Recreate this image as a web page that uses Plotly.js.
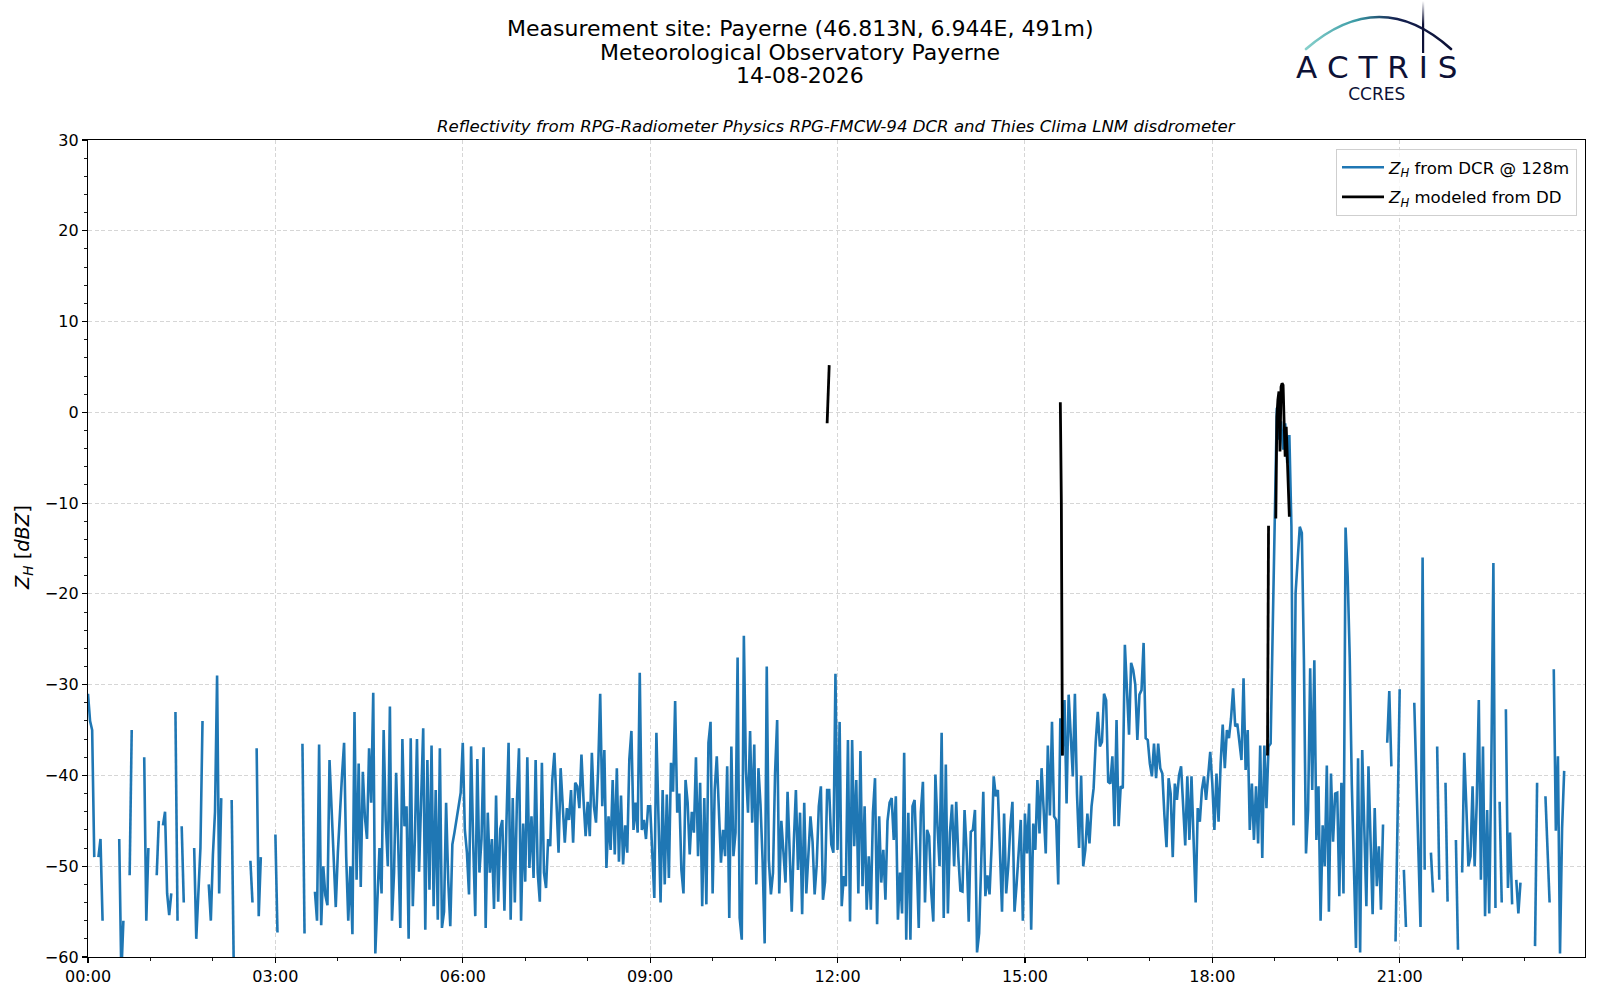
<!DOCTYPE html>
<html>
<head>
<meta charset="utf-8">
<script src="https://cdn.plot.ly/plotly-3.0.1.min.js"></script>
<style>
  html, body { margin: 0; padding: 0; background: #fff; }
  #chart { width: 1600px; height: 1000px; }
</style>
</head>
<body>
<div id="chart"></div>
<script>
// ── Reflectivity Payerne – DCR vs disdrometer ───────────────────────────────
const DAY = '2026-08-14';
const STEP_MIN = 2;   // DCR series: one value every 2 min, 30 values per hour

// Z_H from DCR @ 128m (dBZ), one row per hour, null = no echo
const zhDcrByHour = [
  /*00*/ [-31,-34,-35,-49,null,-49,-47,-56,null,null, null,null,null,null,null,-47,-62,-56,null,null, -51,-35,null,null,null,null,null,-38,-56,-48],
  /*01*/ [null,null,null,-51,-45,null,-45.5,-44,-53,-55.4, -53,null,-33,-56,null,-45.6,-54,null,null,null, null,-48,-58,-53,-48,-34,null,null,-52,-56],
  /*02*/ [-48.7,-44,-29,-53,-42.5,null,null,null,null,-42.7, -61,null,null,null,null,null,null,null,-49.4,-54, null,-37,-55.5,-49,null,null,null,null,null,null],
  /*03*/ [-46.5,-57.3,null,null,null,null,null,null,null,null, null,null,null,-36.5,-57.4,null,null,null,null,-52.8, -56,-36.6,-56.5,-50,-53.2,-54.3,-38.3,-43.7,-50,-54.5],
  /*04*/ [-48.5,-43.7,-40,-36.4,-48.9,-56,-50,-57.5,-33,-51.5, -38.7,-52.3,-39.6,-44.6,-47,-37,-43,-30.9,-59.6,-53.7, -48,-53,-35,-45,-50,-32.4,-56,-50.7,-39.7,-47.6],
  /*05*/ [-56.8,-36,-45.6,-43.4,-58,-35.9,-54.4,-47,-36,-50.6, -41,-34.8,-57,-38.3,-52.6,-36.7,-54.4,-41.6,-55.9,-37, -56.8,-55,-43,-51.5,-56.6,-47.6,-46.3,-45,-43.4,-41.9],
  /*06*/ [-36.4,-46,-48.5,-53.1,-36.8,-47.4,-55.5,-38.2,-50.7,-47, -36.9,-56.8,-44.1,-50.7,-47,-54.7,-42.2,-53.9,-45.9,-44.9, -54.9,-45,-36.4,-55.9,-42.5,-54,-42.9,-37,-56,-45.3],
  /*07*/ [-51.7,-38,-50.2,-44.5,-51.3,-38.3,-50.7,-53.9,-38.6,-50.7, -52.4,-47,-47.8,-40.5,-37.5,-42.9,-48.5,-39.2,-43.4,-47.4, -43.6,-44.9,-41.6,-47.4,-40.8,-41.2,-43.6,-37.7,-42.7,-46.7],
  /*08*/ [-42.9,-46.7,-37.5,-43.4,-45.2,-39.5,-31,-43.4,-37.2,-50.2, -44.5,-48.2,-40.5,-48.7,-39.2,-49.5,-42.2,-49.8,-45.5,-48.5, -38.2,-35.1,-46,-43,-46.3,-28.7,-46,-44.9,-47,-43.4],
  /*09*/ [-43.4,-48,-53.5,-35.3,-45,-54,-41.6,-52,-42.1,-51.3, -38.6,-41.8,-31.8,-44.1,-42,-50.4,-53,-40.5,-43,-48.7, -44,-46.3,-38,-48.9,-40.8,-54.4,-42.5,-54.2,-36.4,-34.1],
  /*10*/ [-53,-41.6,-37.9,-44.5,-49.6,-46,-48.9,-39,-55.7,-36.8, -48.9,-46.3,-27,-55.7,-58.1,-24.6,-39.5,-44.1,-35.1,-45.2, -36.6,-52,-39.2,-43.2,-49.3,-58.5,-28,-49.3,-53.1,-50.7],
  /*11*/ [-39.7,-33.9,-53,-45,-48.5,-51.8,-41.8,-49.3,-55,-47.3, -41.6,-50.4,-44.1,-55.3,-43,-53,-48.5,-44.5,-47.3,-53.1, -49.8,-43.4,-41.2,-53.7,-51.7,-41.6,-41.6,-47.6,-48.5,-28.8],
  /*12*/ [-48.2,-34.1,-54.4,-51.1,-52.2,-36.1,-56.1,-36.1,-47.8,-40.5, -53,-37.3,-52.2,-43.4,-54.8,-48.9,-54.8,-44.1,-40.3,-56.4, -44.5,-51.8,-48.2,-53.7,-45,-43,-42.5,-47.1,-42.3,-55.9],
  /*13*/ [-50.7,-55.2,-37.5,-58.1,-44.1,-58.1,-43.4,-42.7,-49,-56.8, -44.1,-40.7,-54,-46,-46.7,-52.8,-56.1,-39.9,-45.6,-50, -35.3,-55.7,-38.8,-55.2,-46.3,-43.2,-50,-42.9,-48.9,-52.7],
  /*14*/ [-52.8,-43.8,-48.4,-56.1,-46.2,-46,-43.8,-59.5,-57.4,-48.9, -41.8,-53.3,-51,-53.1,-47.8,-40.1,-42.3,-41.6,-47.3,-55, -44.2,-53,-50,-45.6,-42.9,-55,-52,-48.2,-44.9,-56],
  /*15*/ [-44.2,-48.6,-43.1,-57,-45.3,-48.2,-40.5,-46.4,-39.2,-43.8, -48.6,-36.7,-44.4,-34.1,-44.5,-44.9,-52,-33.7,-37.8,-31.7, -43.1,-31.1,-35.2,-40.1,-31,-42,-48,-40,-50,-48.2],
  /*16*/ [-44.2,-47.5,-43.4,-41.4,-36.3,-33,-36.8,-36.3,-31,-31.7, -40.7,-40.9,-37.9,-45.6,-33.9,-45.6,-41.2,-41.4,-25.6,-30.6, -35.5,-27.6,-28.4,-30,-36.1,-31.1,-30.6,-25.4,-35.9,-36.1],
  /*17*/ [-38.7,-40.1,-36.5,-40.3,-36.5,-39.2,-39.8,-44.4,-47.9,-40.3, -42,-49,-40.9,-42.7,-40,-39,-43.8,-47.7,-40.1,-47.1, -40.1,-48,-54,-43.6,-45.1,-41.6,-40.1,-42.7,-39.6,-37.4],
  /*18*/ [-40.9,-46,-39.8,-45.1,-38.7,-34.4,-39.2,-35,-35.9,-33.7, -30.4,-34.6,-34.3,-36.1,-38.3,-29.3,-39.4,-35,-46,-40.9, -47.1,-41.2,-47.5,-36.7,-49.1,-36.7,-43.6,-36.8,-36.5,-24],
  /*19*/ [-11.9,0.5,-3,-1,-4.1,-1.2,-5.6,-2.5,-12.6,-45.5, -19.9,-16.3,-12.6,-13.3,-27.3,-48.6,-43.8,-28.2,-41.6,-27.3, -47.1,-41.2,-56,-45.5,-50,-38.9,-55,-39.8,-47.3,-42],
  /*20*/ [-41.9,-53.3,-40.8,-53,-12.7,-18,-27,-41,-50,-59, -38.1,-59.5,-37.2,-46.3,-54.4,-39,-47,-55.3,-43.6,-52.2, -47.8,-54.8,-45.4,null,-36.4,-30.7,-39,null,-58.3,-45],
  /*21*/ [-30.5,null,-50.4,-56.7,null,null,null,-32,-39.5,-48.7, -56.7,-16,-50.4,null,null,-48.5,-52.9,null,-36.8,-51.5, null,null,-40.8,-53.9,null,null,null,-47.1,-59.2,null],
  /*22*/ [-50.7,-37.5,-43.4,-50,-48.9,-41.2,-50,-42.9,-31.7,-51.5, -36.8,-55.5,-43.8,-55.2,-39,-16.6,-54.6,null,-42.9,-54, null,-32.7,-52.4,-46.3,-54.2,null,-51.5,-55.2,-51.8,null],
  /*23*/ [null,null,null,null,null,-58.8,-40.8,null,null,null, -42.3,-49.1,-54,null,-28.3,-46.1,-37.9,-59.6,-45.8,-39.5, null,null,null,null,null,null,null,null,null,null],
];

// Z_H modeled from disdrometer (dBZ), null = break in the line
const ddTime = ['11:50','11:52','11:53', '15:34','15:35','15:36','15:37', '18:53','18:54','18:55',
                '19:01','19:02','19:03','19:04','19:05','19:06','19:07','19:08','19:09','19:10','19:11','19:12','19:13','19:14'];
const ddZh   = [-1.2, 5.2, null, 1.1, -10, -37.8, null, -37.8, -12.5, null,
                -11.7, -0.5, 1.4, 2.3, -4.3, 2.8, 3.2, 3.0, -1.2, -4.9, -1.6, -5.3, -7.1, -11.5];

const titleLines = ['Measurement site: Payerne (46.813N, 6.944E, 491m)', 'Meteorological Observatory Payerne', '14-08-2026'];
const subTitle = 'Reflectivity from RPG-Radiometer Physics RPG-FMCW-94 DCR and Thies Clima LNM disdrometer';

// ── helpers ─────────────────────────────────────────────────────────────────
const pad = n => String(n).padStart(2,'0');
const stamp = (h,m) => `${DAY} ${pad(h)}:${pad(m)}`;

const dcrX = [], dcrY = [];
zhDcrByHour.forEach((row,h) => {
  if(row.length !== 60/STEP_MIN) console.warn('hour', h, 'has', row.length, 'values');
  row.forEach((v,i) => { dcrX.push(stamp(h, i*STEP_MIN)); dcrY.push(v); });
});
const ddX = ddTime.map(t => `${DAY} ${t}`);

// plot box in pixels (matches margins below)
const BOX = {l:88, t:140, w:1497, h:817};
const pxX = x => (x-BOX.l)/BOX.w;
const pxY = y => 1-(y-BOX.t)/BOX.h;

const FONT = 'DejaVu Sans, sans-serif';
const INK = '#0d1136';
const ZH = '<i>Z<sub>H</sub></i>';

const logoSvg = `<svg xmlns='http://www.w3.org/2000/svg' width='160' height='56' viewBox='0 0 160 56'>
<defs>
<linearGradient id='g' x1='0' y1='0' x2='1' y2='0'>
<stop offset='0' stop-color='#86d0cb'/><stop offset='0.35' stop-color='#3a9aa5'/>
<stop offset='0.62' stop-color='#142150'/><stop offset='1' stop-color='${INK}'/></linearGradient>
<linearGradient id='v' x1='0' y1='0' x2='0' y2='1'>
<stop offset='0' stop-color='${INK}' stop-opacity='0'/><stop offset='0.45' stop-color='${INK}'/></linearGradient>
</defs>
<path d='M6 49 Q80 -15 151 49' fill='none' stroke='url(#g)' stroke-width='2.6' stroke-linecap='round'/>
<rect x='122' y='1' width='2.2' height='52' fill='url(#v)'/>
</svg>`;

const traces = [
  {x:dcrX, y:dcrY, type:'scatter', mode:'lines', name:`${ZH} from DCR @ 128m`,
   line:{color:'#1f77b4', width:2.6}, legendgroup:'a', connectgaps:false},
  {x:ddX, y:ddZh, type:'scatter', mode:'lines', name:`${ZH} modeled from DD`,
   line:{color:'#000000', width:2.8}, legendgroup:'b', connectgaps:false},
];

const annotations = [
  ...titleLines.map((t,i) => ({text:t, xref:'paper', yref:'paper', x:pxX(800), y:pxY(29+i*23),
    showarrow:false, xanchor:'center', yanchor:'middle', font:{family:FONT, size:22, color:'#000'}})),
  {text:`<i>${subTitle}</i>`, xref:'paper', yref:'paper', x:0.5, y:pxY(126), showarrow:false,
   xanchor:'center', yanchor:'middle', font:{family:FONT, size:16.6, color:'#000'}},
  {text:`${ZH} [<i>dBZ</i>]`, xref:'paper', yref:'paper', x:pxX(23), y:pxY(548), textangle:-90,
   showarrow:false, xanchor:'center', yanchor:'middle', font:{family:FONT, size:19.4, color:'#000'}},
  // logo lettering, one block so the two lines keep a tight spacing
  {text:`<span style="font-size:31px">A C T R I S</span><br>CCRES`, xref:'paper', yref:'paper',
   x:pxX(1376), y:pxY(76), showarrow:false, xanchor:'center', yanchor:'middle', align:'center',
   font:{family:FONT, size:17, color:INK}},
];

const layout = {
  width:1600, height:1000,
  margin:{l:BOX.l, r:1600-BOX.l-BOX.w, t:BOX.t, b:1000-BOX.t-BOX.h},
  paper_bgcolor:'#fff', plot_bgcolor:'#fff',
  font:{family:FONT, size:16, color:'#000'},
  showlegend:true,
  legend:{x:pxX(1577), y:pxY(149), xanchor:'right', yanchor:'top', bgcolor:'rgba(255,255,255,0.8)',
          bordercolor:'#cfcfcf', borderwidth:1, font:{family:FONT, size:16.6, color:'#000'},
          tracegroupgap:5, itemwidth:42},
  xaxis:{type:'date', range:[stamp(0,0), stamp(23,58)], tickformat:'%H:%M', tick0:stamp(0,0), dtick:3*3600*1000,
         showline:true, linecolor:'#000', linewidth:1.2, mirror:true, ticks:'outside', ticklen:5, tickwidth:1.2, tickcolor:'#000',
         showgrid:true, gridcolor:'#d6d6d6', gridwidth:1, griddash:'4px,2.5px', zeroline:false,
         minor:{dtick:3600*1000, ticks:'outside', ticklen:3, tickwidth:0.9, tickcolor:'#000', showgrid:false},
         tickfont:{family:FONT, size:16, color:'#000'}},
  yaxis:{range:[-60,30], dtick:10, showline:true, linecolor:'#000', linewidth:1.2, mirror:true,
         ticks:'outside', ticklen:5, tickwidth:1.2, tickcolor:'#000',
         showgrid:true, gridcolor:'#d6d6d6', gridwidth:1, griddash:'4px,2.5px', zeroline:false,
         minor:{dtick:2, ticks:'outside', ticklen:3, tickwidth:0.9, tickcolor:'#000', showgrid:false},
         tickfont:{family:FONT, size:16, color:'#000'}},
  annotations,
  images:[{source:'data:image/svg+xml;charset=utf-8,'+encodeURIComponent(logoSvg),
           xref:'paper', yref:'paper', x:pxX(1300), y:pxY(0), sizex:160/BOX.w, sizey:56/BOX.h,
           xanchor:'left', yanchor:'top', sizing:'stretch', layer:'above'}],
  hovermode:false,
};

Plotly.newPlot('chart', traces, layout, {displayModeBar:false, staticPlot:true});
</script>
</body>
</html>
